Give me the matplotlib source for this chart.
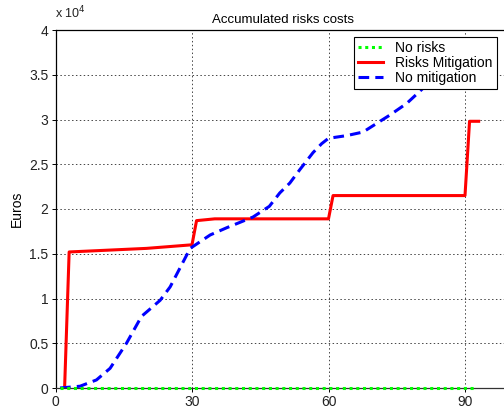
import matplotlib
matplotlib.use('Agg')
import matplotlib.pyplot as plt
from matplotlib.ticker import FuncFormatter, MultipleLocator

plt.rcParams['font.family'] = ['Liberation Sans', 'DejaVu Sans']

# accumulated costs (euros) against time (days)
days_norisk = [1, 92.5]
cost_norisk = [0, 0]

days_mitig = [2, 3, 20, 30, 31, 35, 60, 61, 90, 91, 93]
cost_mitig = [0, 15200, 15600, 16000, 18700, 18900, 18900, 21500, 21500, 29800, 29800]

days_nomitig = [1, 5.4, 9, 12, 15.6, 18.9, 23, 25.2, 29.6, 34, 37.6, 43.4, 47, 49.3,
                51.5, 53.7, 56.6, 58.5, 60, 64, 67.6, 73.5, 77.2, 80.8, 85, 90]
cost_nomitig = [0, 200, 900, 2200, 5000, 8000, 9800, 11300, 15600, 17100, 17900, 19100,
                20300, 21800, 22900, 24400, 26300, 27300, 27900, 28200, 28600, 30500,
                31800, 33500, 35500, 38000]

fig = plt.figure(figsize=(5.04, 4.09), dpi=100)
ax = fig.add_axes([55.5 / 504, 21 / 409, 455 / 504, 358 / 409])

ax.plot(days_norisk, cost_norisk, color='#00ff00', lw=2.2, ls=(0, (1, 1.2)),
        label='No risks', clip_on=False, zorder=3)
ax.plot(days_mitig, cost_mitig, color='#ff0000', lw=2.2, label='Risks Mitigation')
ax.plot(days_nomitig, cost_nomitig, color='#0000ff', lw=2.2, ls=(0, (3.5, 2)), label='No mitigation')

ax.set_xlim(0, 100)
ax.set_ylim(0, 40000)
ax.xaxis.set_major_locator(MultipleLocator(30))
ax.yaxis.set_major_locator(MultipleLocator(5000))
ax.yaxis.set_major_formatter(FuncFormatter(lambda v, p: '%g' % (v / 1e4)))

ax.grid(True, color='#444444', ls=(0, (1.5, 2.5)), lw=0.7)
ax.tick_params(direction='out', length=3, width=0.7, labelsize=10, colors='black',
               labelcolor='#222222', pad=2)
for s in ['left', 'top']:
    ax.spines[s].set_color('black')
    ax.spines[s].set_linewidth(0.9)
ax.spines['bottom'].set_color('#333333')
ax.spines['bottom'].set_linewidth(0.9)
ax.spines['right'].set_visible(False)

ax.set_title('Accumulated risks costs', fontsize=9.5, pad=5)
ax.set_ylabel('Euros', fontsize=10, labelpad=4)
fig.text(55 / 504, 1 - 18 / 409, r'x 10$^4$', fontsize=9, color='#222222')

leg = ax.legend(loc='upper right', bbox_to_anchor=(0.970, 0.980), borderaxespad=0,
                fontsize=10, fancybox=False, framealpha=1, edgecolor='black',
                handlelength=1.8, handletextpad=0.9, labelspacing=0.05,
                borderpad=0.3)
leg.get_frame().set_linewidth(0.8)

plt.savefig('out.png', dpi=100)
